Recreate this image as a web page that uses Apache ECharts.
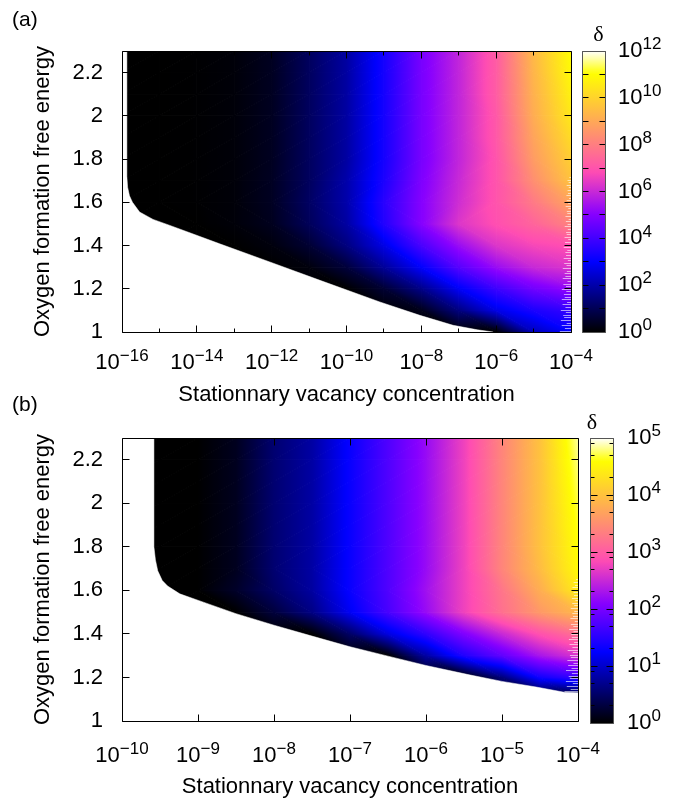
<!DOCTYPE html>
<html>
<head>
<meta charset="utf-8">
<script src="https://cdn.jsdelivr.net/npm/echarts@6/dist/echarts.min.js"></script>
<style>
html, body { margin: 0; padding: 0; background: #fff; }
#chart { width: 677px; height: 799px; }
</style>
</head>
<body>
<div id="chart"></div>
<script>
// ---------- panel (a) ----------
// grid columns: log10 of the stationary vacancy concentration
const aConc = [-16, -15, -14, -13, -12, -11, -10, -9, -8, -7, -6, -5, -4];
// grid rows: oxygen formation free energy
const aEnergy = [1.0, 1.1, 1.2, 1.3, 1.4, 1.5, 1.6, 1.7, 1.8, 1.9, 2.0, 2.1, 2.2, 2.3];
// log10(delta) along each row; null = outside the computed domain
const aDelta100 = [null, null, null, null, null, null, null, null, null, null, 0.0, 2.2, 3.0];
const aDelta110 = [null, null, null, null, null, null, null, null, 0.3, 1.5, 2.7, 3.4, 3.8];
const aDelta120 = [null, null, null, null, null, null, 0.0, 0.6, 1.6, 2.9, 3.9, 4.7, 5.2];
const aDelta130 = [null, null, null, null, null, 0.15, 0.7, 1.8, 3.0, 4.3, 5.3, 6.0, 6.3];
const aDelta140 = [null, null, null, 0.0, 0.15, 0.6, 1.5, 2.7, 4.1, 5.3, 6.3, 6.7, 6.9];
const aDelta150 = [null, null, 0.0, 0.1, 0.35, 1.05, 1.9, 3.5, 5.0, 6.3, 6.9, 7.4, 8.1];
const aDelta160 = [null, 0.0, 0.02, 0.1, 0.4, 1.15, 2.0, 3.6, 5.0, 6.1, 7.0, 7.9, 8.9];
const aDelta170 = [null, 0.0, 0.02, 0.1, 0.4, 1.1, 2.0, 3.4, 4.9, 6.0, 7.0, 8.4, 9.6];
const aDelta180 = [null, 0.0, 0.02, 0.1, 0.38, 1.1, 1.9, 3.3, 4.8, 5.9, 7.0, 8.7, 9.9];
const aDelta190 = [null, 0.0, 0.02, 0.1, 0.38, 1.1, 1.9, 3.3, 4.8, 5.9, 7.1, 8.9, 10.2];
const aDelta200 = [null, 0.0, 0.02, 0.1, 0.38, 1.1, 1.9, 3.3, 4.8, 5.9, 7.1, 9.1, 10.5];
const aDelta210 = [null, 0.0, 0.02, 0.1, 0.38, 1.1, 1.9, 3.3, 4.8, 5.9, 7.2, 9.2, 10.7];
const aDelta220 = [null, 0.0, 0.02, 0.1, 0.38, 1.1, 1.9, 3.3, 4.8, 5.9, 7.2, 9.3, 10.9];
const aDelta230 = [null, 0.0, 0.02, 0.1, 0.38, 1.1, 1.9, 3.3, 4.8, 5.9, 7.2, 9.4, 11.0];
// edge of the domain: [log10 concentration, energy]
const aBoundary = [
  [-15.87, 2.3], [-15.87, 1.72], [-15.85, 1.67], [-15.80, 1.63], [-15.72, 1.60],
  [-15.53, 1.555], [-15.17, 1.521], [-14.72, 1.493], [-14.28, 1.465], [-13.39, 1.408],
  [-12.05, 1.324], [-10.71, 1.239], [-9.11, 1.139], [-8.04, 1.077], [-7.15, 1.031],
  [-6.5, 1.01], [-6.08, 1.0]
];
// striped edge at high concentration: [log10 concentration from, energy low, energy high]
const aStripes = [-4.3, 1.0, 1.72];
const aTicksX = [-16, -14, -12, -10, -8, -6, -4];
const aMinorX = [-15, -13, -11, -9, -7, -5];
const aColorTicks = [0, 2, 4, 6, 8, 10, 12];
const aColorMinor = [1, 3, 5, 7, 9, 11];

// ---------- panel (b) ----------
const bConc = [-10, -9.5, -9, -8.5, -8, -7.5, -7, -6.5, -6, -5.5, -5, -4.5, -4];
const bEnergy = [1.0, 1.1, 1.2, 1.3, 1.4, 1.5, 1.6, 1.7, 1.8, 1.9, 2.0, 2.1, 2.2, 2.3];
const bDelta100 = [null, null, null, null, null, null, null, null, null, null, null, null, null];
const bDelta110 = [null, null, null, null, null, null, null, null, null, null, null, null, null];
const bDelta120 = [null, null, null, null, null, null, null, null, null, null, 0.6, 1.35, 1.6];
const bDelta130 = [null, null, null, null, null, null, null, 0.0, 0.8, 1.45, 1.85, 2.3, 2.6];
const bDelta140 = [null, null, null, null, null, 0.0, 0.5, 1.1, 1.55, 2.05, 2.5, 2.9, 3.2];
const bDelta150 = [null, null, null, 0.0, 0.3, 0.65, 1.2, 1.7, 2.2, 2.75, 3.2, 3.6, 3.9];
const bDelta160 = [null, null, 0.0, 0.2, 0.5, 0.78, 1.3, 1.75, 2.25, 2.75, 3.25, 3.8, 4.4];
const bDelta170 = [null, 0.0, 0.0, 0.15, 0.55, 0.8, 1.3, 1.75, 2.2, 2.75, 3.4, 3.95, 4.55];
const bDelta180 = [null, 0.0, 0.0, 0.15, 0.55, 0.8, 1.3, 1.75, 2.2, 2.75, 3.4, 4.0, 4.6];
const bDelta190 = [null, 0.0, 0.0, 0.15, 0.55, 0.8, 1.3, 1.75, 2.2, 2.75, 3.4, 4.0, 4.65];
const bDelta200 = [null, 0.0, 0.0, 0.15, 0.55, 0.8, 1.3, 1.75, 2.2, 2.75, 3.4, 4.0, 4.7];
const bDelta210 = [null, 0.0, 0.0, 0.15, 0.55, 0.8, 1.3, 1.75, 2.2, 2.75, 3.4, 4.0, 4.75];
const bDelta220 = [null, 0.0, 0.0, 0.15, 0.55, 0.8, 1.3, 1.75, 2.2, 2.75, 3.4, 4.0, 4.8];
const bDelta230 = [null, 0.0, 0.0, 0.15, 0.55, 0.8, 1.3, 1.75, 2.2, 2.75, 3.4, 4.0, 4.85];
const bBoundary = [
  [-9.58, 2.3], [-9.58, 1.80], [-9.56, 1.74], [-9.53, 1.69], [-9.47, 1.645],
  [-9.40, 1.62], [-9.24, 1.584], [-8.93, 1.546], [-8.5, 1.493], [-8.0, 1.44],
  [-7.5, 1.39], [-7.0, 1.341], [-6.5, 1.298], [-6.0, 1.255], [-5.43, 1.212],
  [-5.0, 1.182], [-4.55, 1.156], [-4.18, 1.132], [-4.0, 1.130]
];
const bStripes = [-4.18, 1.13, 1.66];
const bTicksX = [-10, -9, -8, -7, -6, -5, -4];
const bMinorX = [];
const bColorTicks = [0, 1, 2, 3, 4, 5];
// colour-bar ticks at 2, 5 and 8 times each decade
const bColorMinor = [0.301, 0.699, 0.903, 1.301, 1.699, 1.903, 2.301, 2.699, 2.903,
                     3.301, 3.699, 3.903, 4.301, 4.699, 4.903];

// energy axis ticks shared by both panels
const energyTicks = [1.0, 1.2, 1.4, 1.6, 1.8, 2.0, 2.2];

const aRows = [aDelta100, aDelta110, aDelta120, aDelta130, aDelta140, aDelta150, aDelta160,
               aDelta170, aDelta180, aDelta190, aDelta200, aDelta210, aDelta220, aDelta230];
const bRows = [bDelta100, bDelta110, bDelta120, bDelta130, bDelta140, bDelta150, bDelta160,
               bDelta170, bDelta180, bDelta190, bDelta200, bDelta210, bDelta220, bDelta230];

const FONT = '"Liberation Sans", Arial, Helvetica, sans-serif';
const SERIF = '"Liberation Serif", "DejaVu Serif", serif';

// black - blue - violet - yellow - white colour map (gnuplot rgbformulae 30,31,32)
function palette(t) {
  t = Math.max(0, Math.min(1, t));
  const c = v => Math.round(255 * Math.max(0, Math.min(1, v)));
  const r = t / 0.32 - 0.78125;
  const g = 2 * t - 0.84;
  let b;
  if (t < 0.25) b = 4 * t;
  else if (t < 0.42) b = 1;
  else if (t < 0.92) b = -2 * t + 1.84;
  else b = t / 0.08 - 11.5;
  return 'rgb(' + c(r) + ',' + c(g) + ',' + c(b) + ')';
}

// grid cells: [x0, y0, x1, y1, v(x0,y0), v(x1,y0), v(x0,y1), v(x1,y1)]
function buildCells(xs, ys, rows) {
  const out = [];
  const z = v => (v == null ? 0 : v);
  for (let j = 0; j < ys.length - 1; j++) {
    for (let i = 0; i < xs.length - 1; i++) {
      const v00 = rows[j][i], v10 = rows[j][i + 1], v01 = rows[j + 1][i], v11 = rows[j + 1][i + 1];
      if (v00 == null && v10 == null && v01 == null && v11 == null) continue;
      out.push([xs[i], ys[j], xs[i + 1], ys[j + 1], z(v00), z(v10), z(v01), z(v11)]);
    }
  }
  return out;
}

// linear shading of one triangle (values given at its three corners)
function triangleFill(P, V, vmax) {
  const p1 = P[0];
  const ax = P[1][0] - p1[0], ay = P[1][1] - p1[1];
  const bx = P[2][0] - p1[0], by = P[2][1] - p1[1];
  const det = ax * by - ay * bx;
  const d2 = V[1] - V[0], d3 = V[2] - V[0];
  if (Math.abs(det) < 1e-9) return palette(V[0] / vmax);
  const gx = (d2 * by - d3 * ay) / det;
  const gy = (ax * d3 - bx * d2) / det;
  const gn = Math.hypot(gx, gy);
  const ux = gn > 0 ? gx / gn : 1, uy = gn > 0 ? gy / gn : 0;
  const s = P.map(p => (p[0] - p1[0]) * ux + (p[1] - p1[1]) * uy);
  const smin = Math.min.apply(null, s) - 1, smax = Math.max.apply(null, s) + 1;
  const va = V[0] + smin * gn, vb = V[0] + smax * gn;
  if (Math.abs(vb - va) < 0.01) return palette((va + vb) / 2 / vmax);
  const stops = [];
  const N = 12;
  for (let k = 0; k <= N; k++) {
    const f = k / N;
    stops.push({ offset: f, color: palette((va + (vb - va) * f) / vmax) });
  }
  return {
    type: 'linear', global: true,
    x: p1[0] + smin * ux, y: p1[1] + smin * uy,
    x2: p1[0] + smax * ux, y2: p1[1] + smax * uy,
    colorStops: stops
  };
}

function heatRenderer(vmax) {
  return function (params, api) {
    const x0 = api.value(0), y0 = api.value(1), x1 = api.value(2), y1 = api.value(3);
    const v00 = api.value(4), v10 = api.value(5), v01 = api.value(6), v11 = api.value(7);
    const p00 = api.coord([x0, y0]), p10 = api.coord([x1, y0]);
    const p01 = api.coord([x0, y1]), p11 = api.coord([x1, y1]);
    let tris;
    if (Math.abs(v00 - v11) <= Math.abs(v10 - v01)) {
      tris = [[[p00, p10, p11], [v00, v10, v11]], [[p00, p11, p01], [v00, v11, v01]]];
    } else {
      tris = [[[p00, p10, p01], [v00, v10, v01]], [[p10, p11, p01], [v10, v11, v01]]];
    }
    return {
      type: 'group',
      children: tris.map(t => {
        const fill = triangleFill(t[0], t[1], vmax);
        return {
          type: 'polygon',
          shape: { points: t[0] },
          style: { fill: fill, stroke: fill, lineWidth: 1 }
        };
      })
    };
  };
}

// white area where delta is not defined
function blankRenderer(boundary, xmin, ymin) {
  return function (params, api) {
    const pts = boundary.map(p => api.coord(p));
    const last = boundary[boundary.length - 1];
    pts.push(api.coord([last[0], ymin - 0.2]));
    pts.push(api.coord([xmin - 1, ymin - 0.2]));
    pts.push(api.coord([xmin - 1, boundary[0][1] + 0.2]));
    return {
      type: 'polygon',
      shape: { points: pts },
      style: { fill: '#fff', stroke: '#fff', lineWidth: 0.5 }
    };
  };
}

// thin light stripes along the high-concentration edge
function stripeRenderer(region, xmax) {
  return function (params, api) {
    const right = api.coord([xmax, region[1]])[0];
    const left = api.coord([region[0], region[1]])[0];
    const yLo = api.coord([xmax, region[1]])[1];
    const yHi = api.coord([xmax, region[2]])[1];
    const pattern = [1, 0.55, 0.85, 0.4, 0.95, 0.65, 0.75, 0.5];
    const kids = [];
    let k = 0;
    for (let y = yLo - 1.5; y > yHi; y -= 2.6, k++) {
      const taper = 0.35 + 0.65 * (y - yHi) / (yLo - yHi);
      const len = (right - left) * pattern[k % pattern.length] * taper;
      const yy = Math.round(y) + 0.5;
      kids.push({
        type: 'line',
        shape: { x1: right - len, y1: yy, x2: right, y2: yy },
        style: { stroke: 'rgba(255,255,255,0.6)', lineWidth: 1 }
      });
    }
    return { type: 'group', children: kids };
  };
}

// border and inward ticks of a plotting box
function frameRenderer(xr, yr, xMajor, xMinor, yMajor, yMinor, majorLen, minorLen, color) {
  return function (params, api) {
    const snap = v => Math.round(v - 0.5) + 0.5;
    const bl = api.coord([xr[0], yr[0]]), tr = api.coord([xr[1], yr[1]]);
    const x0 = snap(bl[0]), x1 = snap(tr[0]), y0 = snap(bl[1]), y1 = snap(tr[1]);
    const kids = [];
    const seg = (ax, ay, bx, by) => kids.push({
      type: 'line', shape: { x1: ax, y1: ay, x2: bx, y2: by },
      style: { stroke: '#000', lineWidth: 1 }
    });
    const xt = (vals, len) => vals.forEach(v => {
      const x = snap(api.coord([v, yr[0]])[0]);
      seg(x, y0, x, y0 - len); seg(x, y1, x, y1 + len);
    });
    const yt = (vals, len) => vals.forEach(v => {
      const y = snap(api.coord([xr[0], v])[1]);
      seg(x0, y, x0 + len, y); seg(x1, y, x1 - len, y);
    });
    xt(xMajor, majorLen); xt(xMinor, minorLen);
    yt(yMajor, majorLen); yt(yMinor, minorLen);
    kids.push({
      type: 'rect', shape: { x: x0, y: y1, width: x1 - x0, height: y0 - y1 },
      style: { fill: 'none', stroke: color, lineWidth: 1 }
    });
    return { type: 'group', children: kids };
  };
}

function colorbarRenderer(vmax) {
  return function (params, api) {
    const lo = api.coord([0, 0]), hi = api.coord([1, vmax]);
    const stops = [];
    for (let k = 0; k <= 60; k++) stops.push({ offset: k / 60, color: palette(k / 60) });
    return {
      type: 'rect',
      shape: { x: lo[0], y: hi[1], width: hi[0] - lo[0], height: lo[1] - hi[1] },
      style: { fill: { type: 'linear', x: 0, y: 1, x2: 0, y2: 0, colorStops: stops } }
    };
  };
}

const RICH = {
  b: { fontSize: 22, lineHeight: 30, fontFamily: FONT, color: '#000' },
  s: { fontSize: 17, lineHeight: 16, verticalAlign: 'top', fontFamily: FONT, color: '#000' }
};
function powerLabel(v) {
  const n = Math.round(v);
  return '{b|10}{s|' + (n < 0 ? '\u2212' + (-n) : String(n)) + '}';
}

const NO_LINES = {
  axisLine: { show: false }, axisTick: { show: false },
  minorTick: { show: false }, splitLine: { show: false }, minorSplitLine: { show: false }
};

function plotXAxis(grid, min, max, interval, margin, nameGap) {
  return Object.assign({
    gridIndex: grid, type: 'value', min: min, max: max, interval: interval, position: 'bottom',
    axisLabel: { margin: margin, formatter: powerLabel, rich: RICH },
    name: 'Stationnary vacancy concentration', nameLocation: 'middle', nameGap: nameGap,
    nameTextStyle: { fontSize: 22, fontFamily: FONT, color: '#000' }
  }, NO_LINES);
}

function plotYAxis(grid) {
  return Object.assign({
    gridIndex: grid, type: 'value', min: 1, max: 2.3, interval: 0.2, position: 'left',
    axisLabel: { margin: 19, fontSize: 22, fontFamily: FONT, color: '#000', showMaxLabel: false },
    name: 'Oxygen formation free energy', nameLocation: 'middle', nameGap: 68,
    nameTextStyle: { fontSize: 22, fontFamily: FONT, color: '#000' }
  }, NO_LINES);
}

function colorbarAxis(grid, vmax, ticks, margin) {
  return Object.assign({
    gridIndex: grid, type: 'value', min: 0, max: vmax, interval: ticks[1] - ticks[0], position: 'right',
    axisLabel: { margin: margin, formatter: powerLabel, rich: RICH }
  }, NO_LINES);
}

function hiddenX(grid) {
  return { gridIndex: grid, type: 'value', min: 0, max: 1, show: false };
}

const option = {
  animation: false,
  backgroundColor: '#fff',
  textStyle: { fontFamily: FONT, color: '#000' },
  grid: [
    { left: 122, top: 51, width: 449, height: 281 },
    { left: 582, top: 51, width: 23, height: 281 },
    { left: 122, top: 438, width: 456, height: 285 },
    { left: 590, top: 438, width: 23, height: 285 }
  ],
  xAxis: [
    plotXAxis(0, -16, -4, 2, 16, 52),
    hiddenX(1),
    plotXAxis(2, -10, -4, 1, 20, 55),
    hiddenX(3)
  ],
  yAxis: [
    plotYAxis(0),
    colorbarAxis(1, 12, aColorTicks, 13),
    plotYAxis(2),
    colorbarAxis(3, 5, bColorTicks, 14)
  ],
  series: [
    // panel (a)
    { type: 'custom', xAxisIndex: 0, yAxisIndex: 0, clip: true, z: 2,
      renderItem: heatRenderer(12), data: buildCells(aConc, aEnergy, aRows),
      encode: { x: [0, 2], y: [1, 3] } },
    { type: 'custom', xAxisIndex: 0, yAxisIndex: 0, clip: true, z: 3,
      renderItem: blankRenderer(aBoundary, aConc[0], aEnergy[0]), data: [aBoundary[0]] },
    { type: 'custom', xAxisIndex: 0, yAxisIndex: 0, clip: true, z: 4,
      renderItem: stripeRenderer(aStripes, aConc[aConc.length - 1]), data: [[aStripes[0], aStripes[1]]] },
    { type: 'custom', xAxisIndex: 0, yAxisIndex: 0, clip: false, z: 5,
      renderItem: frameRenderer([-16, -4], [1, 2.3], aTicksX, aMinorX, energyTicks, [], 7, 4, '#000'),
      data: [[-16, 1]] },
    { type: 'custom', xAxisIndex: 1, yAxisIndex: 1, z: 2,
      renderItem: colorbarRenderer(12), data: [[0, 0]] },
    { type: 'custom', xAxisIndex: 1, yAxisIndex: 1, clip: false, z: 5,
      renderItem: frameRenderer([0, 1], [0, 12], [], [], aColorTicks, aColorMinor, 6, 6, '#555'),
      data: [[0, 0]] },
    // panel (b)
    { type: 'custom', xAxisIndex: 2, yAxisIndex: 2, clip: true, z: 2,
      renderItem: heatRenderer(5), data: buildCells(bConc, bEnergy, bRows),
      encode: { x: [0, 2], y: [1, 3] } },
    { type: 'custom', xAxisIndex: 2, yAxisIndex: 2, clip: true, z: 3,
      renderItem: blankRenderer(bBoundary, bConc[0], bEnergy[0]), data: [bBoundary[0]] },
    { type: 'custom', xAxisIndex: 2, yAxisIndex: 2, clip: true, z: 4,
      renderItem: stripeRenderer(bStripes, bConc[bConc.length - 1]), data: [[bStripes[0], bStripes[1]]] },
    { type: 'custom', xAxisIndex: 2, yAxisIndex: 2, clip: false, z: 5,
      renderItem: frameRenderer([-10, -4], [1, 2.3], bTicksX, bMinorX, energyTicks, [], 7, 4, '#000'),
      data: [[-10, 1]] },
    { type: 'custom', xAxisIndex: 3, yAxisIndex: 3, z: 2,
      renderItem: colorbarRenderer(5), data: [[0, 0]] },
    { type: 'custom', xAxisIndex: 3, yAxisIndex: 3, clip: false, z: 5,
      renderItem: frameRenderer([0, 1], [0, 5], [], [], bColorTicks, bColorMinor, 7, 4, '#555'),
      data: [[0, 0]] }
  ],
  graphic: [
    { type: 'text', left: 12, top: 10, style: { text: '(a)', fontSize: 21, fontFamily: FONT, fill: '#000' } },
    { type: 'text', left: 12, top: 395, style: { text: '(b)', fontSize: 21, fontFamily: FONT, fill: '#000' } },
    { type: 'text', x: 598.5, y: 35.5, style: { text: '\u03b4', fontSize: 22, fontFamily: SERIF, fill: '#000', align: 'center', verticalAlign: 'middle' } },
    { type: 'text', x: 592, y: 423.5, style: { text: '\u03b4', fontSize: 22, fontFamily: SERIF, fill: '#000', align: 'center', verticalAlign: 'middle' } }
  ]
};

const chart = echarts.init(document.getElementById('chart'), null, { renderer: 'canvas' });
chart.setOption(option);
</script>
</body>
</html>
